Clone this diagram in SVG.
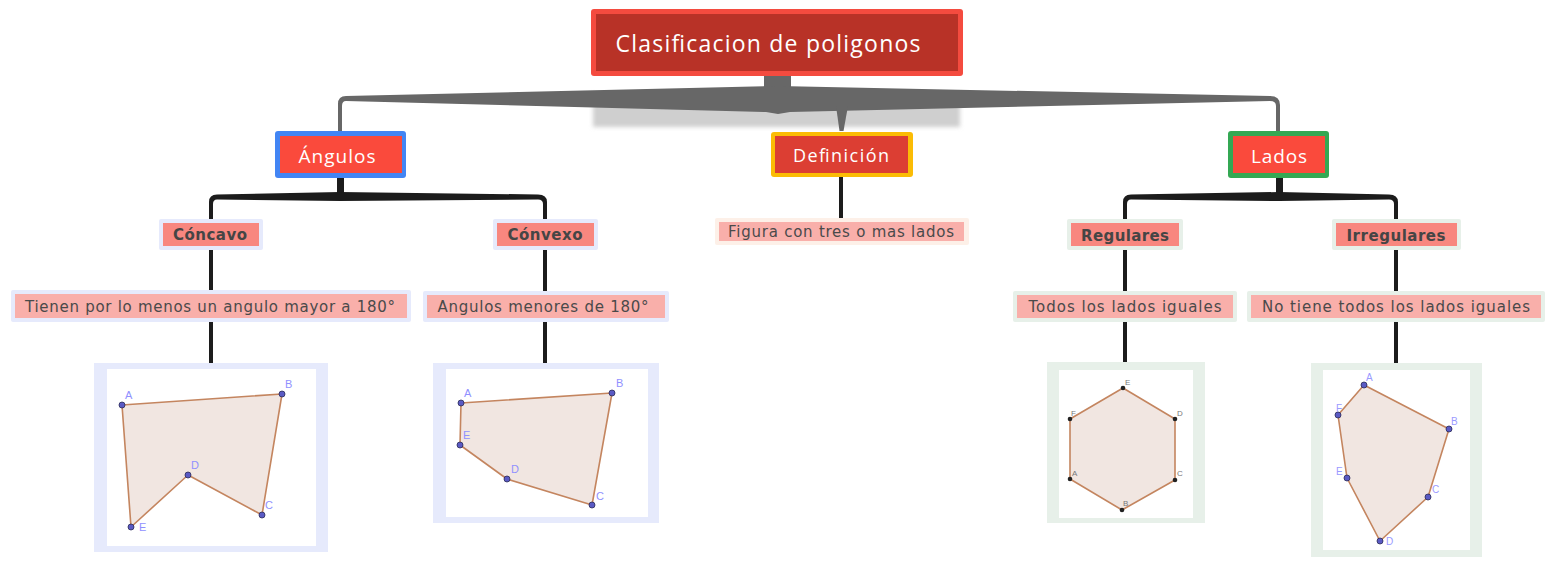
<svg xmlns="http://www.w3.org/2000/svg" width="1548" height="561" viewBox="0 0 1548 561">
<defs>
<filter id="blur" x="-10%" y="-50%" width="120%" height="200%"><feGaussianBlur stdDeviation="2"/></filter>
</defs>
<style>
.t1{font-family:"Open Sans","DejaVu Sans",sans-serif;fill:#ffffff;text-anchor:middle}
.t2{font-family:"DejaVu Sans",Verdana,sans-serif;font-weight:bold;font-size:15px;fill:#454545;text-anchor:middle}
.t3{font-family:"DejaVu Sans",Verdana,sans-serif;font-size:15px;fill:#4a4a4a;text-anchor:middle}
.vl{stroke:#1c1c1c;stroke-width:4;fill:none}
.poly{fill:#f1e6e1;stroke:#c4855f;stroke-width:1.6;stroke-linejoin:round}
.pt{fill:#5a5ac4;stroke:#2a2a55;stroke-width:0.8}
.hp{fill:#222;stroke:none}
.lb{font-family:"Liberation Sans",Arial,sans-serif;font-size:11px;fill:#9090ff}
.hl{font-family:"Liberation Sans",Arial,sans-serif;font-size:8px;fill:#777}
.il{font-family:"Liberation Sans",Arial,sans-serif;font-size:10px;fill:#9a9aff}
.fb{fill:#e6eafc}
.fg{fill:#e7f0e9}
.ci{fill:#f8877f}
.di{fill:#f9afaa}
</style>

<g id="connectors">
  <rect x="593" y="94" width="367" height="33" fill="#cfcfcf" filter="url(#blur)"/>
  <rect x="764" y="74" width="27" height="18" fill="#676767"/>
  <path d="M338,132 L338,104 Q338,96 346,96 L778,86 L1270,96 Q1280,96 1280,105 L1280,132 L1276,132 L1276,106 Q1276,101 1270,101 L790,112 L778,114 L766,112 L346,101 Q342,101 342,106 L342,132 Z" fill="#676767"/>
  <path d="M836,106 L848,106 L843.5,131 L839.5,131 Z" fill="#676767"/>
  <rect x="337" y="176" width="7" height="18" fill="#1c1c1c"/>
  <path d="M209,222 L209,202 Q209,194.5 217,194.5 L340,192 L538,194.5 Q547,194.5 547,202 L547,222 L543,222 L543,204 Q543,199.5 538,199.5 L340,201 L217,199.5 Q213,199.5 213,204 L213,222 Z" fill="#1c1c1c"/>
  <rect x="1276" y="176" width="7" height="18" fill="#1c1c1c"/>
  <path d="M1123,222 L1123,202 Q1123,194.5 1131,194.5 L1279,192 L1389,194.5 Q1398,194.5 1398,202 L1398,222 L1394,222 L1394,204 Q1394,199.5 1389,199.5 L1279,201 L1131,199.5 Q1127,199.5 1127,204 L1127,222 Z" fill="#1c1c1c"/>
  <line class="vl" x1="211" y1="250" x2="211" y2="292"/>
  <line class="vl" x1="211" y1="322" x2="211" y2="363"/>
  <line class="vl" x1="545" y1="250" x2="545" y2="292"/>
  <line class="vl" x1="545" y1="322" x2="545" y2="363"/>
  <line class="vl" x1="841" y1="177" x2="841" y2="219"/>
  <line class="vl" x1="1125" y1="250" x2="1125" y2="292"/>
  <line class="vl" x1="1125" y1="322" x2="1125" y2="363"/>
  <line class="vl" x1="1396" y1="250" x2="1396" y2="292"/>
  <line class="vl" x1="1396" y1="322" x2="1396" y2="363"/>
</g>

<g id="root">
  <rect x="591" y="9" width="372" height="67" rx="3" fill="#f44b3f"/>
  <rect x="596" y="14" width="362" height="57" fill="#b83227"/>
  <text class="t1" x="768" y="52" font-size="23" textLength="305" lengthAdjust="spacing">Clasificacion de poligonos</text>
</g>

<g id="angulos">
  <rect x="275" y="131" width="131" height="47" rx="3" fill="#4285f4"/>
  <rect x="280" y="136" width="122" height="37" fill="#fa4a3c"/>
  <text class="t1" x="337" y="163" font-size="19" textLength="77" lengthAdjust="spacing">Ángulos</text>
</g>

<g id="definicion">
  <rect x="771" y="132" width="142" height="45" rx="3" fill="#fbbc05"/>
  <rect x="775" y="136" width="133" height="37" fill="#dc3e33"/>
  <text class="t1" x="841" y="162" font-size="18" textLength="96" lengthAdjust="spacing">Definición</text>
</g>

<g id="lados">
  <rect x="1228" y="131" width="101" height="47" rx="3" fill="#34a853"/>
  <rect x="1233" y="136" width="92" height="37" fill="#fa4a3c"/>
  <text class="t1" x="1279" y="163" font-size="19" textLength="56" lengthAdjust="spacing">Lados</text>
</g>

<g id="concavo">
  <rect class="fb" x="159" y="219" width="104" height="31" rx="2"/>
  <rect class="ci" x="163" y="223" width="96" height="23"/>
  <text class="t2" x="210" y="240" textLength="74" lengthAdjust="spacing">Cóncavo</text>
</g>

<g id="convexo">
  <rect class="fb" x="493" y="219" width="105" height="31" rx="2"/>
  <rect class="ci" x="497" y="223" width="97" height="23"/>
  <text class="t2" x="545" y="240" textLength="75" lengthAdjust="spacing">Cónvexo</text>
</g>

<g id="regulares">
  <rect class="fg" x="1067" y="219" width="116" height="31" rx="2"/>
  <rect class="ci" x="1071" y="223" width="108" height="23"/>
  <text class="t2" x="1125" y="241" textLength="88" lengthAdjust="spacing">Regulares</text>
</g>

<g id="irregulares">
  <rect class="fg" x="1332" y="219" width="129" height="31" rx="2"/>
  <rect class="ci" x="1336" y="223" width="121" height="23"/>
  <text class="t2" x="1396" y="241" textLength="99" lengthAdjust="spacing">Irregulares</text>
</g>

<g id="desc-concavo">
  <rect class="fb" x="11" y="290" width="400" height="32" rx="2"/>
  <rect class="di" x="15" y="294" width="392" height="24"/>
  <text class="t3" x="210" y="312" textLength="370" lengthAdjust="spacing">Tienen por lo menos un angulo mayor a 180°</text>
</g>

<g id="desc-convexo">
  <rect class="fb" x="423" y="291" width="246" height="31" rx="2"/>
  <rect class="di" x="427" y="295" width="238" height="23"/>
  <text class="t3" x="543" y="312" textLength="211" lengthAdjust="spacing">Angulos menores de 180°</text>
</g>

<g id="desc-definicion">
  <rect x="715" y="218" width="254" height="27" rx="2" fill="#fdf0e8"/>
  <rect class="di" x="719" y="222" width="245" height="19"/>
  <text class="t3" x="841" y="237" textLength="226" lengthAdjust="spacing">Figura con tres o mas lados</text>
</g>

<g id="desc-regulares">
  <rect class="fg" x="1013" y="291" width="224" height="31" rx="2"/>
  <rect class="di" x="1017" y="295" width="216" height="23"/>
  <text class="t3" x="1125" y="312" textLength="193" lengthAdjust="spacing">Todos los lados iguales</text>
</g>

<g id="desc-irregulares">
  <rect class="fg" x="1247" y="291" width="298" height="31" rx="2"/>
  <rect class="di" x="1251" y="295" width="290" height="23"/>
  <text class="t3" x="1396" y="312" textLength="268" lengthAdjust="spacing">No tiene todos los lados iguales</text>
</g>

<g id="img-concavo">
  <rect class="fb" x="94" y="363" width="234" height="189"/>
  <rect x="107" y="369" width="209" height="177" fill="#ffffff"/>
  <polygon class="poly" points="122,405 282,394 262,515 188,475 131,527"/>
  <circle class="pt" cx="122" cy="405" r="3"/>
  <circle class="pt" cx="282" cy="394" r="3"/>
  <circle class="pt" cx="262" cy="515" r="3"/>
  <circle class="pt" cx="188" cy="475" r="3"/>
  <circle class="pt" cx="131" cy="527" r="3"/>
  <text class="lb" x="125" y="399">A</text>
  <text class="lb" x="285" y="388">B</text>
  <text class="lb" x="265" y="509">C</text>
  <text class="lb" x="191" y="469">D</text>
  <text class="lb" x="139" y="531">E</text>
</g>

<g id="img-convexo">
  <rect class="fb" x="433" y="363" width="226" height="160"/>
  <rect x="446" y="369" width="202" height="148" fill="#ffffff"/>
  <polygon class="poly" points="461,403 612,393 592,505 507,479 460,445"/>
  <circle class="pt" cx="461" cy="403" r="3"/>
  <circle class="pt" cx="612" cy="393" r="3"/>
  <circle class="pt" cx="592" cy="505" r="3"/>
  <circle class="pt" cx="507" cy="479" r="3"/>
  <circle class="pt" cx="460" cy="445" r="3"/>
  <text class="lb" x="464" y="397">A</text>
  <text class="lb" x="616" y="387">B</text>
  <text class="lb" x="596" y="500">C</text>
  <text class="lb" x="511" y="473">D</text>
  <text class="lb" x="463" y="439">E</text>
</g>

<g id="img-regulares">
  <rect class="fg" x="1047" y="362" width="158" height="161"/>
  <rect x="1059" y="370" width="134" height="148" fill="#ffffff"/>
  <polygon class="poly" points="1070,479 1122,510 1175,480 1175,419 1123,388 1070,419"/>
  <circle class="hp" cx="1070" cy="479" r="2.3"/>
  <circle class="hp" cx="1122" cy="510" r="2.3"/>
  <circle class="hp" cx="1175" cy="480" r="2.3"/>
  <circle class="hp" cx="1175" cy="419" r="2.3"/>
  <circle class="hp" cx="1123" cy="388" r="2.3"/>
  <circle class="hp" cx="1070" cy="419" r="2.3"/>
  <text class="hl" x="1072" y="476">A</text>
  <text class="hl" x="1123" y="506">B</text>
  <text class="hl" x="1177" y="476">C</text>
  <text class="hl" x="1177" y="416">D</text>
  <text class="hl" x="1125" y="385">E</text>
  <text class="hl" x="1071" y="416">F</text>
</g>

<g id="img-irregulares">
  <rect class="fg" x="1311" y="363" width="171" height="194"/>
  <rect x="1323" y="370" width="147" height="180" fill="#ffffff"/>
  <polygon class="poly" points="1364,385 1449,429 1428,497 1380,541 1347,478 1338,415"/>
  <circle class="pt" cx="1364" cy="385" r="3"/>
  <circle class="pt" cx="1449" cy="429" r="3"/>
  <circle class="pt" cx="1428" cy="497" r="3"/>
  <circle class="pt" cx="1380" cy="541" r="3"/>
  <circle class="pt" cx="1347" cy="478" r="3"/>
  <circle class="pt" cx="1338" cy="415" r="3"/>
  <text class="il" x="1366" y="381">A</text>
  <text class="il" x="1451" y="425">B</text>
  <text class="il" x="1432" y="493">C</text>
  <text class="il" x="1386" y="545">D</text>
  <text class="il" x="1336" y="475">E</text>
  <text class="il" x="1336" y="412">F</text>
</g>
</svg>
